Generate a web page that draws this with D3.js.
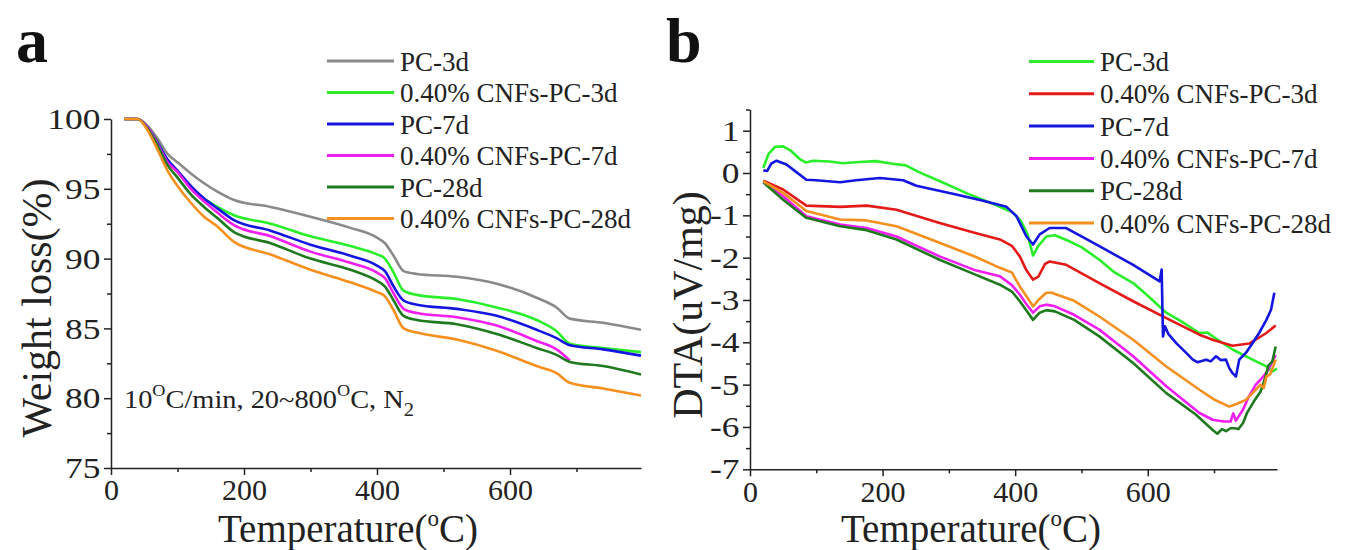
<!DOCTYPE html>
<html>
<head>
<meta charset="utf-8">
<script src="https://cdn.jsdelivr.net/npm/d3@7"></script>
<style>
  body { margin: 0; background: #fff; }
  svg { display: block; font-family: "Liberation Serif", "Times New Roman", serif; }
  .axis path, .axis line { stroke: #222; stroke-width: 1.5; }
  .axis text { font-family: "Liberation Serif", serif; font-size: 30px; fill: #222; }
</style>
</head>
<body>
<svg id="chart" width="1364" height="550"></svg>
<script>
// ─── Data: panel a (TGA, weight loss %) ─────────
const tempA = [20, 40, 55, 70, 85, 100, 120, 140, 160, 185, 240, 300, 360, 400, 412, 425, 440, 460, 520, 580, 640, 670, 690, 740, 797];
const pc3dA     = [100, 100, 99.5, 98.6, 97.5, 96.9, 96.1, 95.4, 94.8, 94.2, 93.7, 93.0, 92.2, 91.5, 91.1, 90.2, 89.1, 88.9, 88.7, 88.2, 87.2, 86.5, 85.7, 85.4, 84.9];
const cnf3dA    = [100, 100, 99.4, 98.3, 97.0, 96.2, 95.1, 94.3, 93.7, 93.1, 92.5, 91.6, 90.9, 90.3, 90.0, 89.0, 87.7, 87.4, 87.1, 86.5, 85.6, 84.8, 83.9, 83.6, 83.3];
const pc7dA     = [100, 100, 99.4, 98.3, 97.1, 96.3, 95.2, 94.3, 93.6, 92.75, 92.0, 91.0, 90.2, 89.5, 89.1, 88.0, 87.0, 86.7, 86.4, 85.9, 84.9, 84.3, 83.8, 83.5, 83.05];
const cnf7dA    = [100, 100, 99.4, 98.2, 96.9, 96.2, 95.0, 94.1, 93.3, 92.4, 91.6, 90.5, 89.7, 89.0, 88.6, 87.5, 86.4, 86.1, 85.8, 85.2, 84.1, 83.5, 82.7, null, null];
const pc28dA    = [100, 100, 99.3, 98.1, 96.7, 95.8, 94.6, 93.7, 92.9, 91.9, 91.1, 90.0, 89.2, 88.4, 88.0, 87.0, 85.9, 85.6, 85.3, 84.6, 83.6, 83.1, 82.6, 82.3, 81.7];
const cnf28dA   = [100, 100, 99.2, 97.8, 96.3, 95.2, 94.0, 93.0, 92.3, 91.2, 90.3, 89.2, 88.3, 87.6, 87.3, 86.3, 85.0, 84.7, 84.2, 83.4, 82.3, 81.8, 81.1, 80.7, 80.2];

const namesA  = ['PC-3d', '0.40% CNFs-PC-3d', 'PC-7d', '0.40% CNFs-PC-7d', 'PC-28d', '0.40% CNFs-PC-28d'];
const colorsA = ['#8a8a8a', '#2aee2a', '#1515e0', '#f01ef0', '#1f7a1f', '#f5901e'];
const valuesA = [pc3dA, cnf3dA, pc7dA, cnf7dA, pc28dA, cnf28dA];

// ─── Data: panel b (DTA, [T, uV/mg]) ────────────
const pc3dB = [[20,0.12],[28,0.45],[38,0.62],[50,0.63],[62,0.52],[75,0.33],[84,0.25],[95,0.29],[120,0.27],[140,0.23],[165,0.26],[190,0.28],[215,0.22],[235,0.18],[255,0.02],[290,-0.22],[330,-0.5],[370,-0.75],[395,-0.92],[408,-1.12],[418,-1.42],[427,-1.95],[435,-1.72],[447,-1.5],[460,-1.47],[480,-1.6],[500,-1.75],[527,-2.05],[550,-2.35],[578,-2.6],[600,-2.9],[628,-3.3],[650,-3.5],[678,-3.78],[690,-3.77],[700,-3.88],[728,-4.17],[758,-4.41],[779,-4.57],[788,-4.69],[795,-4.62]];
const cnf3dB = [[20,-0.18],[50,-0.39],[85,-0.77],[136,-0.8],[176,-0.77],[221,-0.87],[286,-1.18],[340,-1.42],[377,-1.57],[395,-1.72],[407,-1.97],[417,-2.3],[427,-2.52],[435,-2.45],[445,-2.15],[452,-2.09],[477,-2.17],[527,-2.6],[578,-3.03],[628,-3.43],[678,-3.82],[700,-3.95],[728,-4.08],[753,-4.03],[779,-3.78],[793,-3.6]];
const pc7dB = [[20,0.06],[26,0.05],[32,0.22],[40,0.29],[55,0.2],[70,0.02],[85,-0.16],[100,-0.17],[136,-0.22],[160,-0.17],[196,-0.12],[231,-0.17],[251,-0.3],[280,-0.4],[311,-0.51],[350,-0.65],[387,-0.8],[402,-1.02],[417,-1.5],[427,-1.69],[437,-1.45],[452,-1.3],[477,-1.3],[500,-1.5],[527,-1.73],[578,-2.17],[618,-2.56],[621,-2.28],[623,-3.86],[626,-3.62],[631,-3.8],[643,-4.02],[658,-4.25],[668,-4.41],[675,-4.47],[688,-4.41],[695,-4.45],[703,-4.33],[710,-4.42],[718,-4.41],[723,-4.61],[728,-4.73],[733,-4.81],[738,-4.41],[748,-4.25],[758,-4.02],[768,-3.78],[779,-3.47],[786,-3.23],[791,-2.83]];
const cnf7dB = [[20,-0.22],[50,-0.55],[85,-1.02],[136,-1.22],[176,-1.3],[221,-1.5],[286,-1.97],[340,-2.3],[377,-2.44],[395,-2.65],[407,-2.87],[417,-3.1],[427,-3.3],[437,-3.15],[447,-3.11],[460,-3.15],[489,-3.35],[527,-3.7],[578,-4.33],[628,-5.04],[678,-5.67],[698,-5.83],[715,-5.87],[725,-5.87],[729,-5.68],[733,-5.85],[744,-5.58],[752,-5.3],[763,-5.0],[772,-4.85],[780,-4.7],[793,-4.3]];
const pc28dB = [[20,-0.22],[50,-0.63],[85,-1.06],[136,-1.26],[176,-1.35],[221,-1.57],[286,-2.05],[340,-2.4],[377,-2.64],[395,-2.8],[407,-3.03],[417,-3.25],[427,-3.47],[437,-3.3],[447,-3.24],[460,-3.27],[489,-3.47],[527,-3.86],[578,-4.49],[628,-5.2],[672,-5.7],[698,-6.07],[705,-6.16],[712,-6.05],[718,-6.1],[725,-6.03],[731,-6.03],[737,-6.05],[744,-5.9],[750,-5.66],[760,-5.4],[770,-5.17],[777,-4.85],[782,-4.55],[788,-4.45],[793,-4.1]];
const cnf28dB = [[20,-0.2],[50,-0.47],[85,-0.9],[136,-1.1],[176,-1.12],[221,-1.26],[286,-1.65],[340,-1.98],[377,-2.24],[395,-2.35],[407,-2.68],[417,-2.91],[427,-3.15],[435,-3.0],[447,-2.83],[455,-2.83],[489,-3.02],[527,-3.39],[578,-3.94],[628,-4.57],[678,-5.12],[700,-5.35],[723,-5.52],[735,-5.45],[748,-5.36],[763,-5.12],[770,-5.0],[775,-5.08],[779,-4.81],[785,-4.75],[793,-4.41]];

const namesB  = ['PC-3d', '0.40% CNFs-PC-3d', 'PC-7d', '0.40% CNFs-PC-7d', 'PC-28d', '0.40% CNFs-PC-28d'];
const colorsB = ['#2aee2a', '#e41a1a', '#1515e0', '#f01ef0', '#1f7a1f', '#f5901e'];
const seriesB = [pc3dB, cnf3dB, pc7dB, cnf7dB, pc28dB, cnf28dB];

// Ticks
const xTicks      = [0, 200, 400, 600];
const xMinorTicks = [100, 300, 500, 700];
const yTicksA      = [75, 80, 85, 90, 95, 100];
const yMinorTicksA = [77.5, 82.5, 87.5, 92.5, 97.5];
const yTicksB      = [-7, -6, -5, -4, -3, -2, -1, 0, 1];
const yMinorTicksB = [-6.5, -5.5, -4.5, -3.5, -2.5, -1.5, -0.5, 0.5, 1.5];

const svg = d3.select('#chart');

// ─── Helper: axes with minor ticks ──────────────
function drawAxes(x, y, yTicks, yMinor, yFmt) {
  const x0 = x.range()[0], y0 = y.range()[0];

  svg.append('g').attr('class', 'axis')
    .attr('transform', `translate(0,${y0})`)
    .call(d3.axisBottom(x).tickValues(xTicks).tickSizeInner(7).tickSizeOuter(0).tickPadding(4).tickFormat(d3.format('d')));
  svg.append('g').attr('class', 'axis')
    .attr('transform', `translate(0,${y0})`)
    .call(d3.axisBottom(x).tickValues(xMinorTicks).tickSize(4).tickFormat(''))
    .call(g => g.select('.domain').remove());

  // y labels in the figure are a bit wider than plain Times, stretch them sideways
  svg.append('g').attr('class', 'axis')
    .attr('transform', `translate(${x0},0)`)
    .call(d3.axisLeft(y).tickValues(yTicks).tickSizeInner(7).tickSizeOuter(0).tickPadding(2).tickFormat(yFmt))
    .call(g => g.selectAll('.tick text').attr('transform', 'scale(1.18,1)'));
  svg.append('g').attr('class', 'axis')
    .attr('transform', `translate(${x0},0)`)
    .call(d3.axisLeft(y).tickValues(yMinor).tickSize(4).tickFormat(''))
    .call(g => g.select('.domain').remove());
}

function drawLegend(names, colors, x1, x2, y0, step) {
  const g = svg.append('g');
  names.forEach((n, i) => {
    const yy = y0 + i * step;
    g.append('line').attr('x1', x1).attr('x2', x2).attr('y1', yy).attr('y2', yy)
      .attr('stroke', colors[i]).attr('stroke-width', 3);
    g.append('text').attr('x', x2 + 6).attr('y', yy + 9.5)
      .attr('font-size', 27).attr('fill', '#222').text(n);
  });
}

function xTitle(cx) {
  const t = svg.append('text').attr('x', cx).attr('y', 542)
    .attr('text-anchor', 'middle').attr('font-size', 39).attr('fill', '#222');
  t.append('tspan').text('Temperature(');
  t.append('tspan').attr('font-size', 23).attr('dy', -16).text('o');
  t.append('tspan').attr('dy', 16).text('C)');
}

// ─── Panel a ────────────────────────────────────
const xA = d3.scaleLinear().domain([0, 797]).range([111, 641]);
const yA = d3.scaleLinear().domain([75, 100]).range([468, 119]);

drawAxes(xA, yA, yTicksA, yMinorTicksA, d3.format('d'));

const lineA = d3.line()
  .defined(d => d[1] != null)
  .x(d => xA(d[0])).y(d => yA(d[1]))
  .curve(d3.curveMonotoneX);

valuesA.forEach((vals, i) => {
  svg.append('path')
    .datum(tempA.map((t, j) => [t, vals[j]]))
    .attr('d', lineA)
    .attr('fill', 'none').attr('stroke', colorsA[i])
    .attr('stroke-width', 2.6).attr('stroke-linejoin', 'round');
});

drawLegend(namesA, colorsA, 327, 394, 61, 31.5);

// annotation
const ann = svg.append('text').attr('x', 124).attr('y', 408)
  .attr('font-size', 25).attr('fill', '#222')
  .attr('textLength', 290).attr('lengthAdjust', 'spacingAndGlyphs');
ann.append('tspan').text('10');
ann.append('tspan').attr('font-size', 16).attr('dy', -12).text('O');
ann.append('tspan').attr('dy', 12).text('C/min, 20~800');
ann.append('tspan').attr('font-size', 16).attr('dy', -12).text('O');
ann.append('tspan').attr('dy', 12).text('C, N');
ann.append('tspan').attr('font-size', 18).attr('dy', 8).text('2');

// titles
xTitle(348);
svg.append('text')
  .attr('transform', 'translate(51,308) rotate(-90)')
  .attr('text-anchor', 'middle').attr('font-size', 42).attr('fill', '#222')
  .text('Weight loss(%)');
svg.append('text').attr('x', 16).attr('y', 62)
  .attr('font-size', 64).attr('font-weight', 'bold').attr('fill', '#111').text('a');

// ─── Panel b ────────────────────────────────────
const xB = d3.scaleLinear().domain([0, 795]).range([750, 1277]);
const yB = d3.scaleLinear().domain([-7, 1.5]).range([469.3, 109.5]);

drawAxes(xB, yB, yTicksB, yMinorTicksB, d => String(d));

const lineB = d3.line()
  .x(d => xB(d[0])).y(d => yB(d[1]))
  .curve(d3.curveLinear);

seriesB.forEach((pts, i) => {
  svg.append('path')
    .datum(pts)
    .attr('d', lineB)
    .attr('fill', 'none').attr('stroke', colorsB[i])
    .attr('stroke-width', 2.6).attr('stroke-linejoin', 'round');
});

drawLegend(namesB, colorsB, 1029, 1094, 61.5, 32.3);

xTitle(971);
svg.append('text')
  .attr('transform', 'translate(702,305) rotate(-90)')
  .attr('text-anchor', 'middle').attr('font-size', 42).attr('fill', '#222')
  .text('DTA(uV/mg)');
svg.append('text').attr('x', 666).attr('y', 62)
  .attr('font-size', 64).attr('font-weight', 'bold').attr('fill', '#111').text('b');
</script>
</body>
</html>
